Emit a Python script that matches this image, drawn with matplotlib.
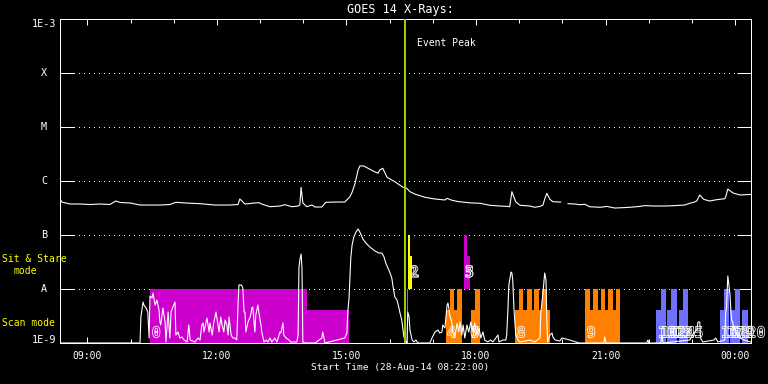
import numpy as np
import matplotlib
matplotlib.use("Agg")
import matplotlib.pyplot as plt
import matplotlib.patheffects as pe
from matplotlib.transforms import blended_transform_factory

plt.rcParams["font.family"] = ["DejaVu Sans Mono", "DejaVu Sans"]

# ---------------- data ----------------
T0, T1 = 8.367, 24.367          # hours of day (08:22 -> 00:22 next day)
PEAK_TIME = 16.365

# GOES long channel: (hour, flux W/m^2); NaN = data gap
goes_points = [
    (8.37, 4.64e-7), (8.41, 4.08e-7), (8.48, 3.96e-7), (8.60, 3.75e-7), (8.83, 3.75e-7),
    (9.06, 3.67e-7), (9.29, 3.75e-7), (9.52, 3.67e-7), (9.66, 4.26e-7), (9.76, 4.0e-7),
    (9.99, 3.92e-7), (10.22, 3.59e-7), (10.45, 3.59e-7), (10.68, 3.59e-7), (10.91, 3.67e-7),
    (11.05, 4.03e-7), (11.26, 3.92e-7), (11.61, 3.8e-7), (11.95, 3.59e-7), (12.30, 3.59e-7),
    (12.49, 3.67e-7), (12.53, 4.64e-7), (12.58, 4.26e-7), (12.65, 3.75e-7), (12.77, 3.83e-7),
    (12.88, 3.92e-7), (12.97, 3.96e-7), (13.07, 3.67e-7), (13.23, 3.34e-7), (13.46, 3.44e-7),
    (13.57, 3.64e-7), (13.74, 3.34e-7), (13.88, 3.44e-7), (13.92, 3.59e-7), (13.95, 7.64e-7),
    (13.99, 3.92e-7), (14.08, 3.34e-7), (14.20, 3.59e-7), (14.27, 3.30e-7), (14.43, 3.30e-7),
    (14.52, 4.03e-7), (14.73, 4.08e-7), (14.96, 4.08e-7), (15.03, 4.64e-7), (15.08, 5.12e-7),
    (15.13, 6.18e-7), (15.20, 9.06e-7), (15.27, 1.60e-6), (15.31, 1.90e-6), (15.40, 1.90e-6),
    (15.50, 1.72e-6), (15.62, 1.53e-6), (15.73, 1.39e-6), (15.77, 1.60e-6), (15.84, 1.72e-6),
    (15.94, 1.17e-6), (16.12, 9.7e-7), (16.31, 7.64e-7), (16.38, 7.5e-7), (16.47, 6.34e-7),
    (16.58, 5.74e-7), (16.82, 4.99e-7), (17.05, 4.64e-7), (17.28, 4.45e-7), (17.33, 4.78e-7),
    (17.44, 4.40e-7), (17.58, 4.17e-7), (17.74, 4.03e-7), (17.90, 3.92e-7), (18.09, 3.87e-7),
    (18.32, 3.55e-7), (18.55, 3.44e-7), (18.74, 3.38e-7), (18.78, 3.34e-7), (18.83, 6.34e-7),
    (18.92, 4.10e-7), (19.02, 3.55e-7), (19.25, 3.44e-7), (19.36, 3.26e-7), (19.48, 3.38e-7),
    (19.55, 3.59e-7), (19.59, 4.64e-7), (19.64, 5.91e-7), (19.71, 4.58e-7), (19.78, 4.13e-7),
    (19.96, 4.08e-7), (20.05, np.nan), (20.13, 3.8e-7), (20.29, 3.75e-7), (20.40, 3.64e-7),
    (20.52, 3.70e-7), (20.63, 3.34e-7), (20.87, 3.26e-7), (21.03, 3.38e-7), (21.21, 3.16e-7),
    (21.38, 3.20e-7), (21.56, 3.26e-7), (21.79, 3.38e-7), (21.91, 3.50e-7), (22.14, 3.44e-7),
    (22.37, 3.44e-7), (22.60, 3.50e-7), (22.83, 3.59e-7), (22.95, 3.87e-7), (23.04, 4.03e-7),
    (23.11, 4.26e-7), (23.18, 5.51e-7), (23.27, 4.58e-7), (23.41, 4.26e-7), (23.53, 4.45e-7),
    (23.64, 4.58e-7), (23.76, 4.70e-7), (23.78, 5.05e-7), (23.83, 7.11e-7), (23.95, 6.0e-7),
    (24.11, 5.51e-7), (24.36, 5.64e-7)]

# lower trace: (hour, relative intensity, arbitrary units)
low_points = [
    (8.37, 0), (10.22, 0), (10.24, 26), (10.29, 41), (10.31, 38), (10.36, 35), (10.40, 31),
    (10.43, 5), (10.45, 47), (10.50, 45), (10.52, 50), (10.57, 38), (10.61, 43), (10.66, 33),
    (10.68, 21), (10.70, 18), (10.75, 35), (10.80, 21), (10.82, 1), (10.87, 31), (10.91, 5),
    (10.94, 31), (10.98, 36), (11.03, 41), (11.05, 8), (11.10, 11), (11.14, 5), (11.19, 6),
    (11.24, 3), (11.31, 1), (11.35, 18), (11.38, 3), (11.49, 1), (11.56, 5), (11.61, 3),
    (11.65, 18), (11.68, 20), (11.70, 11), (11.72, 15), (11.77, 25), (11.82, 11), (11.84, 20),
    (11.89, 8), (11.93, 21), (11.98, 31), (12.00, 25), (12.05, 11), (12.09, 26), (12.12, 18),
    (12.16, 11), (12.19, 23), (12.23, 18), (12.26, 8), (12.28, 26), (12.33, 8), (12.37, 5),
    (12.42, 5), (12.46, 3), (12.49, 40), (12.51, 58), (12.56, 58), (12.58, 57), (12.60, 55),
    (12.63, 31), (12.65, 31), (12.67, 11), (12.72, 21), (12.77, 26), (12.79, 30), (12.81, 35),
    (12.83, 36), (12.86, 21), (12.88, 11), (12.90, 28), (12.95, 38), (12.97, 31), (13.02, 18),
    (13.04, 11), (13.09, 1), (13.14, 3), (13.18, 1), (13.23, 5), (13.27, 1), (13.34, 5),
    (13.39, 1), (13.46, 11), (13.48, 10), (13.53, 20), (13.55, 8), (13.60, 5), (13.67, 3),
    (13.71, 1), (13.85, 1), (13.88, 8), (13.90, 75), (13.92, 83), (13.95, 89), (13.97, 75),
    (13.99, 1), (14.04, 0), (14.27, 0), (14.43, 5), (14.45, 11), (14.48, 5), (14.50, 0),
    (14.96, 5), (15.01, 10), (15.03, 31), (15.06, 45), (15.08, 65), (15.10, 85), (15.13, 98),
    (15.17, 106), (15.22, 111), (15.27, 114), (15.31, 111), (15.38, 104), (15.45, 100),
    (15.54, 96), (15.66, 92), (15.75, 90), (15.82, 90), (15.87, 86), (15.91, 80), (15.96, 75),
    (16.01, 70), (16.05, 65), (16.08, 56), (16.12, 46), (16.17, 43), (16.21, 36), (16.24, 30),
    (16.28, 23), (16.31, 13), (16.33, 6), (16.38, 1), (16.40, 0), (16.42, 31), (16.45, 26),
    (16.47, 13), (16.52, 3), (16.56, 1), (16.61, 3), (16.65, 0), (16.93, 0), (16.98, 5),
    (17.05, 11), (17.12, 13), (17.16, 10), (17.21, 11), (17.23, 18), (17.28, 15), (17.33, 38),
    (17.35, 40), (17.37, 35), (17.39, 28), (17.44, 21), (17.46, 11), (17.51, 5), (17.56, 20),
    (17.60, 11), (17.63, 21), (17.67, 8), (17.70, 18), (17.74, 5), (17.79, 18), (17.83, 11),
    (17.88, 21), (17.93, 11), (17.97, 20), (18.02, 8), (18.07, 15), (18.11, 5), (18.16, 11),
    (18.20, 3), (18.27, 1), (18.34, 3), (18.39, 1), (18.51, 8), (18.53, 1), (18.62, 3),
    (18.69, 3), (18.71, 8), (18.74, 35), (18.76, 58), (18.81, 71), (18.83, 70), (18.85, 63),
    (18.88, 33), (18.90, 20), (18.92, 8), (18.97, 3), (19.02, 1), (19.25, 3), (19.36, 1),
    (19.48, 5), (19.50, 30), (19.55, 50), (19.59, 70), (19.62, 63), (19.64, 23), (19.66, 1),
    (19.71, 8), (19.76, 10), (19.78, 6), (19.83, 3), (19.94, 2), (19.99, 5), (20.17, 3),
    (20.31, 1), (20.40, 0), (20.96, 0), (20.98, 6), (21.01, 0), (21.95, 0), (21.98, 3),
    (22.00, 0), (22.28, 0), (22.30, 8), (22.33, 0), (22.95, 3), (23.04, 10), (23.11, 13),
    (23.14, 21), (23.18, 21), (23.20, 5), (23.25, 1), (23.51, 3), (23.55, 5), (23.60, 1),
    (23.76, 3), (23.78, 30), (23.80, 36), (23.83, 67), (23.85, 60), (23.88, 48), (23.90, 33),
    (23.92, 23), (23.95, 20), (23.97, 13), (23.99, 16), (24.04, 8), (24.11, 5), (24.20, 3),
    (24.36, 1)]

# observing-mode blocks: (start, end) in hours
scan_partial = {
    "#cc00cc": [(10.45, 15.057)],
    "#ff8000": [(17.302, 17.666), (17.88, 18.089), (18.899, 19.709), (20.52, 21.33)],
    "#7070ff": [(22.163, 22.395), (22.433, 22.643), (22.696, 22.897),
                (23.645, 23.86), (23.892, 24.108), (24.17, 24.30)],
}
scan_full = {
    "#cc00cc": [(10.45, 14.085)],
    "#7070ff": [(16.40, 16.43), (22.272, 22.395), (22.526, 22.643), (22.781, 22.897),
                (23.737, 23.86), (24.008, 24.108)],
    "#ff8000": [(17.395, 17.494), (17.55, 17.666), (17.973, 18.089), (18.992, 19.091),
                (19.17, 19.286), (19.346, 19.462), (19.531, 19.633), (20.52, 20.636),
                (20.705, 20.821), (20.891, 20.983), (21.053, 21.168), (21.237, 21.33)],
}
stare_partial = {"#ffff00": [(16.414, 16.51)], "#cc00cc": [(17.719, 17.858)]}
stare_full = {"#ffff00": [(16.414, 16.476)], "#cc00cc": [(17.719, 17.789)]}

scan_labels = ["0", "4", "6", "7", "8", "9", "10", "11", "12", "13", "14", "15",
               "16", "17", "18", "19", "20"]
scan_label_time = [10.49, 17.32, 17.86, 17.86, 18.94, 20.56, 22.21, 22.28, 22.43, 22.55,
                   22.65, 22.84, 23.67, 23.80, 23.92, 24.02, 24.28]
stare_labels = ["1", "2", "3", "5"]
stare_label_time = [16.47, 16.47, 17.74, 17.74]

ytick_vals = [1e-9, 1e-8, 1e-7, 1e-6, 1e-5, 1e-4, 1e-3]
ytick_text = ["1E-9", "A", "B", "C", "M", "X", "1E-3"]
xtick_vals = [9, 12, 15, 18, 21, 24]
xtick_text = ["09:00", "12:00", "15:00", "18:00", "21:00", "00:00"]

# ---------------- drawing ----------------
goes_time, goes_flux = zip(*goes_points)
low_time, low_val = zip(*low_points)

W, H = 768, 384
fig = plt.figure(figsize=(W / 100, H / 100), dpi=100, facecolor="black")
L, R, TOP, BOT = 60, 751, 19, 343
pos = [L / W, 1 - BOT / H, (R - L) / W, (BOT - TOP) / H]
ax = fig.add_axes(pos)
ax.set_facecolor("black")
ax.set_yscale("log")
ax.set_ylim(1e-9, 1e-3)
ax.set_xlim(T0, T1)
px = 0.72  # one pixel in points

PART = 0.61
def draw_blocks(d, base_exp, frac, z):
    for col, spans in d.items():
        for s, e in spans:
            ax.bar(s, 10 ** (base_exp + frac) - 10 ** base_exp, width=e - s,
                   bottom=10 ** base_exp, align="edge", color=col, linewidth=0, zorder=z)

draw_blocks(scan_partial, -9, PART, 2)
draw_blocks(scan_full, -9, 1.0, 2)
draw_blocks(stare_partial, -8, PART, 2)
draw_blocks(stare_full, -8, 1.0, 2)

# dotted grid lines
for yv in ytick_vals[1:-1]:
    ax.axhline(yv, xmin=14 / (R - L), xmax=1 - 15 / (R - L), color="white",
               lw=px, linestyle=(0, (1, 5)), zorder=1, antialiased=False)

# GOES curve
ax.plot(goes_time, goes_flux, color="white", lw=1.1 * px, zorder=4)

# lower trace on overlay axes
ax2 = fig.add_axes(pos)
ax2.set_ylim(0, BOT - TOP)
ax2.set_xlim(T0, T1)
ax2.patch.set_visible(False)
ax2.axis("off")
ax2.plot(low_time, low_val, color="white", lw=1.1 * px, zorder=4)

# event peak line
ax2.axvline(PEAK_TIME, color="#9acd00", lw=2 * px, zorder=6, antialiased=False)
ax2.text(16.63, BOT - 43, "Event Peak", color="white", fontsize=7, va="center", ha="left")

# event labels (outlined digits)
outline = [pe.Stroke(linewidth=0.55, foreground="white")]
for t, s in zip(scan_label_time, scan_labels):
    ax2.text(t, 10, s, color="none", fontsize=11, fontweight="bold", ha="left",
             va="center", path_effects=outline, zorder=7, clip_on=False)
for t, s in zip(stare_label_time, stare_labels):
    ax2.text(t, 70.5, s, color="none", fontsize=11, fontweight="bold", ha="left",
             va="center", path_effects=outline, zorder=7, clip_on=False)

# spines / ticks
for sp in ax.spines.values():
    sp.set_color("white")
    sp.set_linewidth(px)
ax.set_yticks(ytick_vals)
ax.set_yticklabels([])
ax.yaxis.set_minor_locator(matplotlib.ticker.NullLocator())
ax.tick_params(axis="y", which="major", direction="in", length=14 * px, width=px,
               colors="white", left=True, right=True)
ytrans = blended_transform_factory(ax.transAxes, ax.transData)
for yv, s in zip(ytick_vals, ytick_text):
    va = "center"
    if s == "1E-3":
        va = "top"
    elif s == "1E-9":
        va = "baseline"
    ax.text((44 - L) / (R - L), yv, s, transform=ytrans, color="white", fontsize=7.3,
            ha="center", va=va)

ax.set_xticks(xtick_vals)
ax.set_xticklabels(xtick_text)
ax.set_xticks(np.arange(9, 25, 1), minor=True)
ax.tick_params(axis="x", which="major", direction="in", length=6 * px, width=px,
               colors="white", top=True, bottom=True, labelsize=7, pad=5.5)
ax.tick_params(axis="x", which="minor", direction="in", length=4 * px, width=px,
               colors="white", top=True, bottom=True)

# titles / side labels
fig.text(400 / W, 1 - 9 / H, "GOES 14 X-Rays:", color="white", fontsize=8.5,
         ha="center", va="center")
fig.text(400 / W, 1 - 368 / H, "Start Time (28-Aug-14 08:22:00)", color="white",
         fontsize=6.8, ha="center", va="center")
fig.text(2 / W, 1 - 259 / H, "Sit & Stare", color="yellow", fontsize=7, ha="left", va="center")
fig.text(13 / W, 1 - 271.5 / H, "mode", color="yellow", fontsize=7, ha="left", va="center")
fig.text(2 / W, 1 - 323.5 / H, "Scan mode", color="yellow", fontsize=7, ha="left", va="center")

fig.savefig("out.png", dpi=100, facecolor="black")
